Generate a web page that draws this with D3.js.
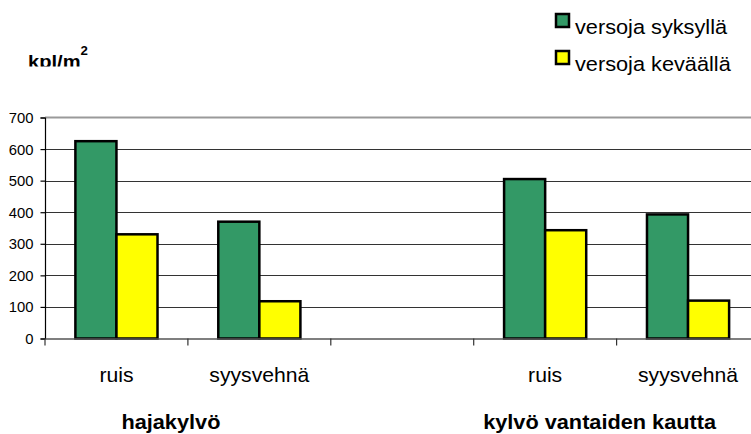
<!DOCTYPE html>
<html>
<head>
<meta charset="utf-8">
<script src="https://cdn.jsdelivr.net/npm/d3@7"></script>
<style>
  body { margin: 0; background: #fff; }
  svg { display: block; }
  text { font-family: "Liberation Sans", Arial, sans-serif; fill: #000; }
</style>
</head>
<body>
<svg id="chart" width="751" height="434"></svg>
<script>
// Shoot counts per square metre, two sowing methods, two crops each
const categories = ["ruis", "syysvehnä", "", "ruis", "syysvehnä"];
const autumnShoots = [625, 370, null, 505, 393];
const springShoots = [330, 118, null, 343, 120];
const seriesNames = ["versoja syksyllä", "versoja keväällä"];
const seriesColors = ["#339966", "#ffff00"];
const yTicks = [0, 100, 200, 300, 400, 500, 600, 700];
const groupLabels = ["hajakylvö", "kylvö vantaiden kautta"];
const groupMembers = [[0, 1], [3, 4]];

const svg = d3.select("#chart");
const STRETCH = 1.06; // glyphs are drawn slightly wide

function stretchedText(sel, x, y, txt) {
  return sel.append("text")
    .attr("transform", `translate(${x},${y}) scale(${STRETCH},1)`)
    .text(txt);
}

const plot = { left: 45, right: 759.5, top: 117.5, bottom: 338.5 };

const x = d3.scaleBand()
  .domain(d3.range(categories.length))
  .range([plot.left, plot.right])
  .padding(0);

const xSub = d3.scaleBand()
  .domain([0, 1])
  .range([0, x.bandwidth()])
  .paddingInner(0)
  .paddingOuter(0.74);

const y = d3.scaleLinear()
  .domain([0, 700])
  .range([plot.bottom, plot.top]);

// horizontal gridlines
svg.append("g")
  .selectAll("line")
  .data(yTicks.filter(t => t > 0 && t < 700))
  .join("line")
  .attr("x1", plot.left).attr("x2", 751)
  .attr("y1", d => Math.round(y(d)) + 0.5)
  .attr("y2", d => Math.round(y(d)) + 0.5)
  .attr("stroke", "#333")
  .attr("stroke-width", 1);

// top border of the plot area
svg.append("line")
  .attr("x1", plot.left).attr("x2", 751)
  .attr("y1", y(700)).attr("y2", y(700))
  .attr("stroke", "#9a9a9a")
  .attr("stroke-width", 2);

// bars
const rows = categories.map((c, i) => ({ i, values: [autumnShoots[i], springShoots[i]] }));
const groups = svg.append("g")
  .selectAll("g")
  .data(rows)
  .join("g")
  .attr("transform", d => `translate(${x(d.i)},0)`);

groups.selectAll("rect")
  .data(d => d.values.map((v, s) => ({ v, s })).filter(e => e.v !== null))
  .join("rect")
  .attr("x", d => xSub(d.s))
  .attr("width", xSub.bandwidth())
  .attr("y", d => y(d.v))
  .attr("height", d => y(0) - y(d.v))
  .attr("fill", d => seriesColors[d.s])
  .attr("stroke", "#000")
  .attr("stroke-width", 2.5);

// y axis
const yAxis = d3.axisLeft(y)
  .tickValues(yTicks)
  .tickSize(4.5)
  .tickPadding(7)
  .tickFormat(d3.format("d"));

const yg = svg.append("g")
  .attr("transform", `translate(${plot.left},0)`)
  .call(yAxis);
yg.select(".domain").attr("stroke", "#000").attr("stroke-width", 1.2);
yg.selectAll(".tick line").attr("stroke", "#000").attr("stroke-width", 1.2);
yg.selectAll(".tick text")
  .attr("font-size", 14)
  .attr("font-family", "'Liberation Sans', Arial, sans-serif")
  .attr("fill", "#000")
  .attr("transform", `scale(${STRETCH},1)`)
  .attr("x", -11.5 / STRETCH)
  .attr("dy", "0.36em");

// x axis: category boundary ticks
const xAxis = d3.axisBottom(x)
  .tickSize(0)
  .tickFormat("");
const xg = svg.append("g")
  .attr("transform", `translate(0,${plot.bottom})`)
  .call(xAxis);
xg.select(".domain").attr("stroke", "#555").attr("stroke-width", 1.5);
xg.selectAll(".tick").remove();

xg.selectAll("line.bound")
  .data(d3.range(categories.length + 1))
  .join("line")
  .attr("class", "bound")
  .attr("x1", i => (i < categories.length ? x(i) : plot.right))
  .attr("x2", i => (i < categories.length ? x(i) : plot.right))
  .attr("y1", 0).attr("y2", 7)
  .attr("stroke", "#333")
  .attr("stroke-width", 1.2);

// category labels
categories.forEach((c, i) => {
  if (!c) return;
  stretchedText(svg, x(i) + x.bandwidth() / 2, 381.5, c)
    .attr("text-anchor", "middle")
    .attr("font-size", 20);
});

// sowing method labels
groupLabels.forEach((g, k) => {
  const [a, b] = groupMembers[k];
  const cx = (x(a) + x(b) + x.bandwidth()) / 2 - 17;
  stretchedText(svg, cx, 428.5, g)
    .attr("text-anchor", "middle")
    .attr("font-size", 20.5)
    .attr("font-weight", "bold");
});

// unit label (bottom of the glyphs trimmed)
svg.append("clipPath").attr("id", "unitClip")
  .append("rect").attr("x", 0).attr("y", 0).attr("width", 200).attr("height", 66.5);
const unit = svg.append("g").attr("clip-path", "url(#unitClip)");
const unitText = unit.append("text")
  .attr("transform", `translate(28,67.6) scale(${STRETCH},1)`)
  .attr("font-size", 19)
  .attr("font-weight", "bold");
unitText.append("tspan").text("kpl/m");
unitText.append("tspan")
  .attr("font-size", 12.5)
  .attr("dy", -12.3)
  .text("2");

// legend
const legendRows = [{ y: 14 }, { y: 51 }];
seriesNames.forEach((name, s) => {
  const ly = legendRows[s].y;
  svg.append("rect")
    .attr("x", 556).attr("y", ly)
    .attr("width", 13).attr("height", 13)
    .attr("fill", seriesColors[s])
    .attr("stroke", "#000")
    .attr("stroke-width", 2.5);
  stretchedText(svg, 575, ly + 19.5, name)
    .attr("font-size", 20.5);
});
</script>
</body>
</html>
